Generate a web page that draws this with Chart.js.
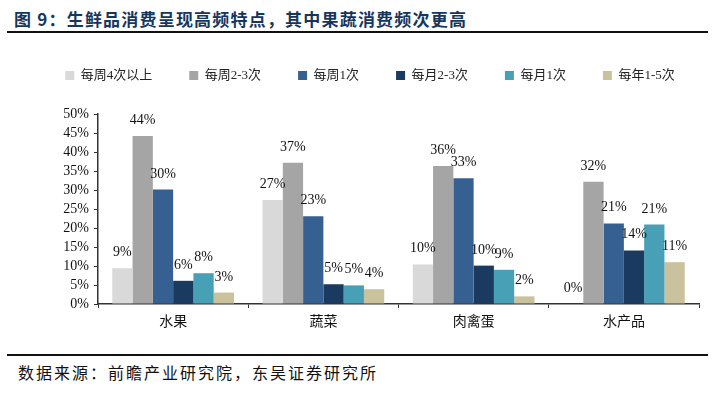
<!DOCTYPE html>
<html>
<head>
<meta charset="utf-8">
<script src="https://cdn.jsdelivr.net/npm/chart.js@4"></script>
<style>
  html, body { margin: 0; padding: 0; background: #fff; }
  body { width: 716px; height: 394px; position: relative; overflow: hidden; }
  #title {
    position: absolute; left: 14px; top: 6px;
    font: bold 17px "Noto Sans CJK SC", "Liberation Serif", serif;
    letter-spacing: 1.2px; color: #17365D; white-space: nowrap;
  }
  .rule { position: absolute; left: 7px; width: 701px; height: 2px; background: #111; }
  #source {
    position: absolute; left: 18px; top: 360px;
    font: 16px "Liberation Serif", "Noto Sans CJK SC", serif;
    letter-spacing: 2px; color: #111; white-space: nowrap;
  }
  #wrap { position: absolute; left: 0; top: 18px; width: 716px; height: 327px; }
</style>
</head>
<body>
<div id="title">图 9：生鲜品消费呈现高频特点，其中果蔬消费频次更高</div>
<div class="rule" style="top:31px"></div>
<div id="wrap"><canvas id="c"></canvas></div>
<div class="rule" style="top:354px"></div>
<div id="source">数据来源：前瞻产业研究院，东吴证券研究所</div>
<script>
// categories and series (percent)
const categories = ['水果', '蔬菜', '肉禽蛋', '水产品'];
const seriesNames = ['每周4次以上', '每周2-3次', '每周1次', '每月2-3次', '每月1次', '每年1-5次'];
const weekly4Plus = [9.4, 27.4, 10.4, 0];
const weekly2to3 = [44.2, 37.2, 36.3, 32.2];
const weekly1 = [30.1, 23.1, 33.1, 21.2];
const monthly2to3 = [6.1, 5.2, 10.1, 14.1];
const monthly1 = [8.1, 4.9, 9.0, 20.9];
const yearly1to5 = [3.0, 3.9, 2.0, 11.0];
const seriesColors = ['#D9D9D9', '#A5A5A5', '#366092', '#1A3A60', '#47A0B6', '#C9C29D'];
const yTicks = [0, 5, 10, 15, 20, 25, 30, 35, 40, 45, 50];

const serif = '"Liberation Serif", "Noto Sans CJK SC", serif';
const seriesValues = [weekly4Plus, weekly2to3, weekly1, monthly2to3, monthly1, yearly1to5];

// value labels above bars
const barLabels = {
    id: 'barLabels',
    afterDatasetsDraw(chart) {
        const ctx = chart.ctx;
        ctx.save();
        ctx.font = '14px ' + serif;
        ctx.fillStyle = '#111';
        ctx.textAlign = 'center';
        ctx.textBaseline = 'alphabetic';
        chart.data.datasets.forEach((ds, i) => {
            chart.getDatasetMeta(i).data.forEach((bar, j) => {
                ctx.fillText(Math.round(ds.data[j]) + '%', bar.x, bar.y - 12);
            });
        });
        ctx.restore();
    }
};

// keep legend on one row and leave extra space below it
const legendGap = {
    id: 'legendGap',
    beforeUpdate(chart) {
        const legend = chart.legend;
        if (legend && !legend._gapPatched) {
            const fit = legend.fit;
            legend.fit = function () {
                const mw = this.maxWidth;
                this.maxWidth = 5000;
                fit.call(this);
                this.maxWidth = mw;
                this.width = mw;
                this.height += 22;
            };
            legend._gapPatched = true;
        }
    }
};

new Chart(document.getElementById('c'), {
    type: 'bar',
    data: {
        labels: categories,
        datasets: seriesNames.map((name, i) => ({
            label: name,
            data: seriesValues[i],
            backgroundColor: seriesColors[i],
            borderWidth: 0,
            categoryPercentage: 0.81,
            barPercentage: 1.0
        }))
    },
    options: {
        responsive: true,
        maintainAspectRatio: false,
        animation: false,
        layout: {padding: {left: 24, right: 0, top: 14, bottom: 0}},
        plugins: {
            legend: {
                position: 'top',
                labels: {
                    boxWidth: 9,
                    boxHeight: 9,
                    padding: 37,
                    color: '#222',
                    font: {size: 13, family: serif}
                }
            },
            tooltip: {enabled: false}
        },
        scales: {
            x: {
                grid: {display: true, drawOnChartArea: false, tickLength: 4, color: '#333'},
                border: {display: true, color: '#333', width: 1.5},
                ticks: {color: '#111', padding: 6, font: {size: 14, family: serif}},
                afterFit: (scale) => { scale.height = 41; }
            },
            y: {
                min: 0,
                max: 50,
                afterBuildTicks: (scale) => { scale.ticks = yTicks.map(v => ({value: v})); },
                grid: {display: true, drawOnChartArea: false, tickLength: 4, color: '#333'},
                border: {display: true, color: '#333', width: 1.5},
                ticks: {
                    color: '#111',
                    padding: 5,
                    autoSkip: false,
                    font: {size: 14, family: serif},
                    callback: (v) => v + '%'
                },
                afterFit: (scale) => { scale.width = 74; }
            },
            // empty right-hand spacer so the plot ends before the legend does
            spacer: {
                type: 'linear',
                position: 'right',
                grid: {display: false},
                border: {display: false},
                ticks: {display: false},
                afterFit: (scale) => { scale.width = 17; }
            }
        }
    },
    plugins: [barLabels, legendGap]
});
</script>
</body>
</html>
